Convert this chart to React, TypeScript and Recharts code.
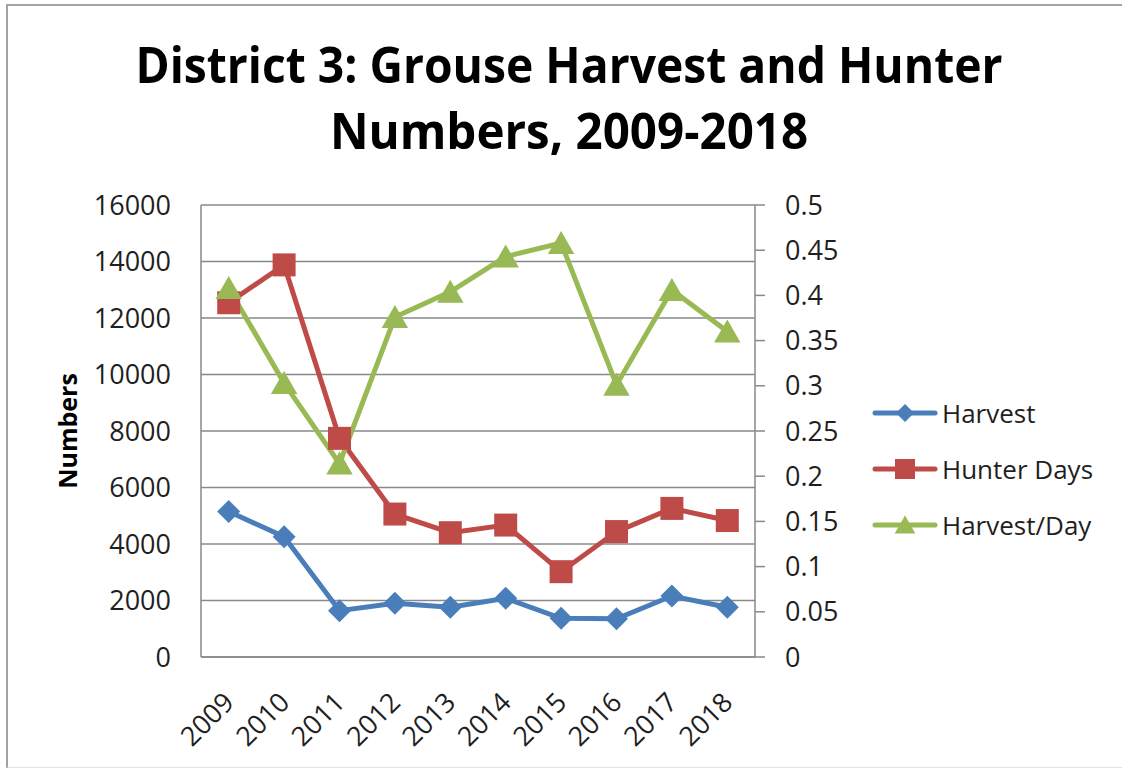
import React from "react";
import { LineChart, Line, XAxis, YAxis, CartesianGrid } from "recharts";

const years = ["2009", "2010", "2011", "2012", "2013", "2014", "2015", "2016", "2017", "2018"];
const harvest = [5150, 4260, 1640, 1900, 1760, 2080, 1370, 1350, 2160, 1760];
const hunterDays = [12540, 13880, 7740, 5060, 4400, 4670, 3020, 4440, 5260, 4830];
const harvestPerDay = [0.408, 0.303, 0.214, 0.376, 0.404, 0.443, 0.458, 0.301, 0.406, 0.36];

const leftTicks = [0, 2000, 4000, 6000, 8000, 10000, 12000, 14000, 16000];
const rightTicks = [0, 0.05, 0.1, 0.15, 0.2, 0.25, 0.3, 0.35, 0.4, 0.45, 0.5];

const seriesNames = ["Harvest", "Hunter Days", "Harvest/Day"];
const seriesKeys = ["harvest", "hunterDays", "harvestPerDay"];
const seriesColors = ["#4A7EBB", "#BE4B48", "#98B954"];
const seriesMarkers = ["diamond", "square", "triangle"];

const data = years.map((year, i) => ({
  year,
  harvest: harvest[i],
  hunterDays: hunterDays[i],
  harvestPerDay: harvestPerDay[i],
}));

const FONT = "'Open Sans', 'Noto Sans', sans-serif";
const TEXT = "#1f1f1f";
const GRID = "#898989";

// marker shapes, size = half width
function markerPath(kind: string, cx: number, cy: number, s: number) {
  if (kind === "diamond") {
    return `M${cx},${cy - s} L${cx + s},${cy} L${cx},${cy + s} L${cx - s},${cy} Z`;
  }
  if (kind === "square") {
    return `M${cx - s},${cy - s} H${cx + s} V${cy + s} H${cx - s} Z`;
  }
  return `M${cx},${cy - s * 1.05} L${cx + s * 1.15},${cy + s * 0.95} L${cx - s * 1.15},${cy + s * 0.95} Z`;
}

const makeDot = (kind: string, color: string, size: number) => (p: any) => {
  if (p.cx == null || p.cy == null) return <g key={p.index} />;
  return <path key={p.index} d={markerPath(kind, p.cx, p.cy, size)} fill={color} />;
};

const YearTick = ({ x, y, payload }: any) => {
  const ax = x + 7;
  const ay = y + 45;
  return (
    <text
      x={ax}
      y={ay}
      transform={`rotate(-45, ${ax}, ${ay})`}
      textAnchor="end"
      fontSize={27}
      fontFamily={FONT}
      fill={TEXT}
    >
      {payload.value}
    </text>
  );
};

const NumbersLabel = ({ viewBox }: any) => {
  const lx = viewBox.x + 67;
  const ly = viewBox.y + viewBox.height / 2;
  return (
    <text
      x={lx}
      y={ly}
      transform={`rotate(-90, ${lx}, ${ly})`}
      textAnchor="middle"
      dominantBaseline="central"
      fontSize={25}
      fontWeight={700}
      fontFamily={FONT}
      fill="#000"
    >
      Numbers
    </text>
  );
};

export default function App() {
  return (
    <div
      style={{
        position: "absolute",
        left: 0,
        top: 0,
        width: 1122,
        height: 768,
        background: "#fff",
        fontFamily: FONT,
        overflow: "hidden",
      }}
    >
      <div
        style={{
          position: "absolute",
          left: 6,
          top: 4,
          width: 1120,
          height: 761,
          borderTop: "2px solid #a3a3a3",
          borderLeft: "2px solid #a3a3a3",
          borderBottom: "2px solid #e2e2e2",
        }}
      />

      <div
        style={{
          position: "absolute",
          left: 16,
          top: 31,
          width: 1106,
          textAlign: "center",
          fontSize: 50,
          fontWeight: 700,
          lineHeight: "66px",
          color: "#000",
        }}
      >
        <div style={{ transform: "scaleX(0.925)", whiteSpace: "nowrap" }}>
          District 3: Grouse Harvest and Hunter
        </div>
        <div style={{ transform: "scaleX(0.95)", whiteSpace: "nowrap" }}>Numbers, 2009-2018</div>
      </div>

      <div style={{ position: "absolute", left: 0, top: 0 }}>
        <LineChart width={1122} height={768} data={data} margin={{ top: 205, right: 267, bottom: 11, left: 0 }}>
          <CartesianGrid yAxisId="left" vertical={false} stroke={GRID} strokeWidth={1.5} />
          <XAxis
            dataKey="year"
            interval={0}
            height={100}
            padding={{ left: 27.7, right: 27.7 }}
            tickLine={false}
            tickSize={0}
            axisLine={{ stroke: GRID, strokeWidth: 1.5 }}
            tick={<YearTick />}
          />
          <YAxis
            yAxisId="left"
            width={201}
            domain={[0, 16000]}
            ticks={leftTicks}
            interval={0}
            tickLine={false}
            tickSize={0}
            tickMargin={30}
            axisLine={{ stroke: GRID, strokeWidth: 1.5 }}
            tick={{ fontSize: 27, fill: TEXT, fontFamily: FONT }}
            label={<NumbersLabel />}
          />
          <YAxis
            yAxisId="right"
            orientation="right"
            width={100}
            domain={[0, 0.5]}
            ticks={rightTicks}
            interval={0}
            tickSize={10}
            tickMargin={20}
            tickLine={{ stroke: GRID, strokeWidth: 1.5 }}
            axisLine={{ stroke: GRID, strokeWidth: 1.5 }}
            tick={{ fontSize: 27, fill: TEXT, fontFamily: FONT }}
          />
          {seriesKeys.map((key, i) => (
            <Line
              key={key}
              yAxisId={i === 2 ? "right" : "left"}
              dataKey={key}
              name={seriesNames[i]}
              stroke={seriesColors[i]}
              strokeWidth={5}
              type="linear"
              dot={makeDot(seriesMarkers[i], seriesColors[i], 11.5)}
              activeDot={false}
              isAnimationActive={false}
            />
          ))}
        </LineChart>
      </div>

      <div style={{ position: "absolute", left: 872, top: 385 }}>
        {seriesNames.map((name, i) => (
          <div key={name} style={{ display: "flex", alignItems: "center", height: 56 }}>
            <svg width={66} height={24} style={{ display: "block" }}>
              <line x1={3} x2={63} y1={12} y2={12} stroke={seriesColors[i]} strokeWidth={5} strokeLinecap="round" />
              <path d={markerPath(seriesMarkers[i], 33, 12, i === 1 ? 10 : 9)} fill={seriesColors[i]} />
            </svg>
            <span style={{ marginLeft: 4, fontSize: 26, color: TEXT, whiteSpace: "nowrap" }}>{name}</span>
          </div>
        ))}
      </div>
    </div>
  );
}
